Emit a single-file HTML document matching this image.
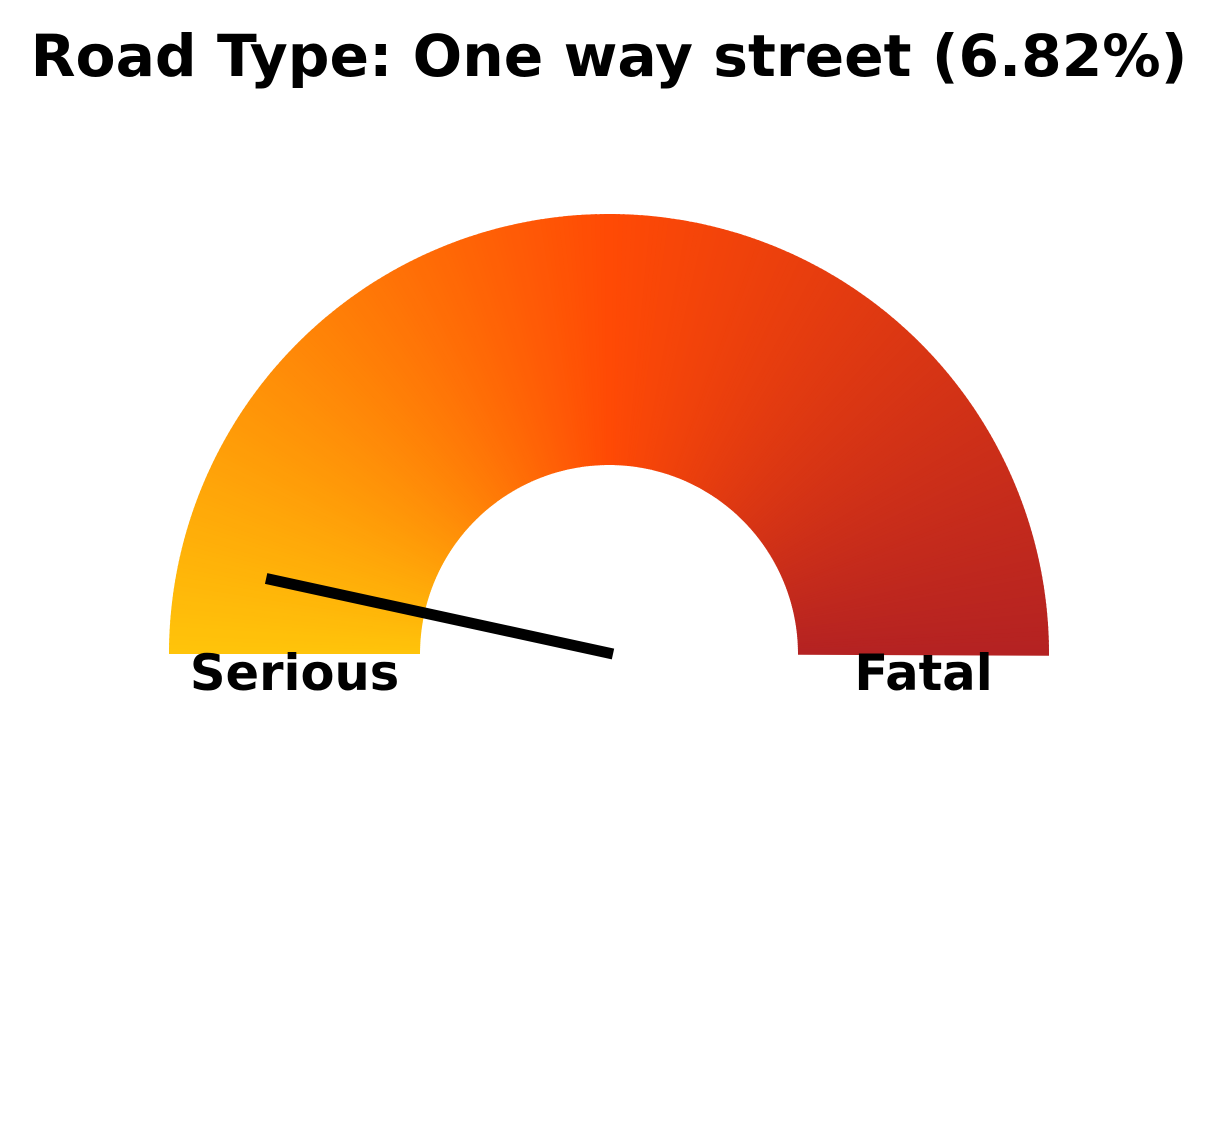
<!DOCTYPE html>
<html><head><meta charset="utf-8"><style>
html,body{margin:0;padding:0;background:#fff;}
svg{display:block;}
text{font-family:"DejaVu Sans","Liberation Sans",sans-serif;font-weight:bold;fill:#000;}
</style></head><body>
<svg id="chart" width="1218" height="1145" viewBox="0 0 1218 1145">
<text x="609" y="76" text-anchor="middle" font-size="58.3">Road Type: One way street (6.82%)</text>
<g id="arc"></g>
<g id="labels"></g>
<line id="needle" stroke="#000" stroke-width="11"/>
</svg>
<script>
const gaugeValue = [6.82];
const endLabels = ["Serious", "Fatal"];
const colorStops = ["#ffc40a", "#ff4a05", "#b42222"];
const scaleRange = [0, 100];

const cx = 609, cy = 654, R = 440, r = 189, N = 300;
const ns = "http://www.w3.org/2000/svg";
function hex(c){return [1,3,5].map(i=>parseInt(c.substr(i,2),16));}
function colorAt(t){
  const seg = t*(colorStops.length-1);
  const i = Math.min(Math.floor(seg), colorStops.length-2);
  const f = seg-i, a=hex(colorStops[i]), b=hex(colorStops[i+1]);
  return "rgb("+a.map((v,k)=>Math.round(v+(b[k]-v)*f)).join(",")+")";
}
function angleOf(v){return Math.PI*(1-(v-scaleRange[0])/(scaleRange[1]-scaleRange[0]));}
const arc = document.getElementById("arc");
for(let i=0;i<N;i++){
  const a0 = Math.PI*(1-i/N), a1 = Math.PI*(1-(i+1)/N)-0.004;
  const p = [[cx+R*Math.cos(a0),cy-R*Math.sin(a0)],[cx+R*Math.cos(a1),cy-R*Math.sin(a1)],
             [cx+r*Math.cos(a1),cy-r*Math.sin(a1)],[cx+r*Math.cos(a0),cy-r*Math.sin(a0)]];
  const el = document.createElementNS(ns,"path");
  el.setAttribute("d",`M${p[0]} A${R},${R} 0 0 1 ${p[1]} L${p[2]} A${r},${r} 0 0 0 ${p[3]} Z`);
  el.setAttribute("fill",colorAt((i+0.5)/N));
  
  
  arc.appendChild(el);
}
const lg = document.getElementById("labels");
const lx = [cx-(R+r)/2, cx+(R+r)/2];
endLabels.forEach((t,i)=>{
  const el=document.createElementNS(ns,"text");
  el.setAttribute("x",lx[i]); el.setAttribute("y",690);
  el.setAttribute("text-anchor","middle"); el.setAttribute("font-size","49.5");
  el.textContent=t;
  
  
  lg.appendChild(el);
});
const a = angleOf(gaugeValue[0]), L = 355;
const nd = document.getElementById("needle");
nd.setAttribute("x1",cx+4); nd.setAttribute("y1",cy);
nd.setAttribute("x2",cx+4+L*Math.cos(a)); nd.setAttribute("y2",cy-L*Math.sin(a));
</script>
</body></html>
